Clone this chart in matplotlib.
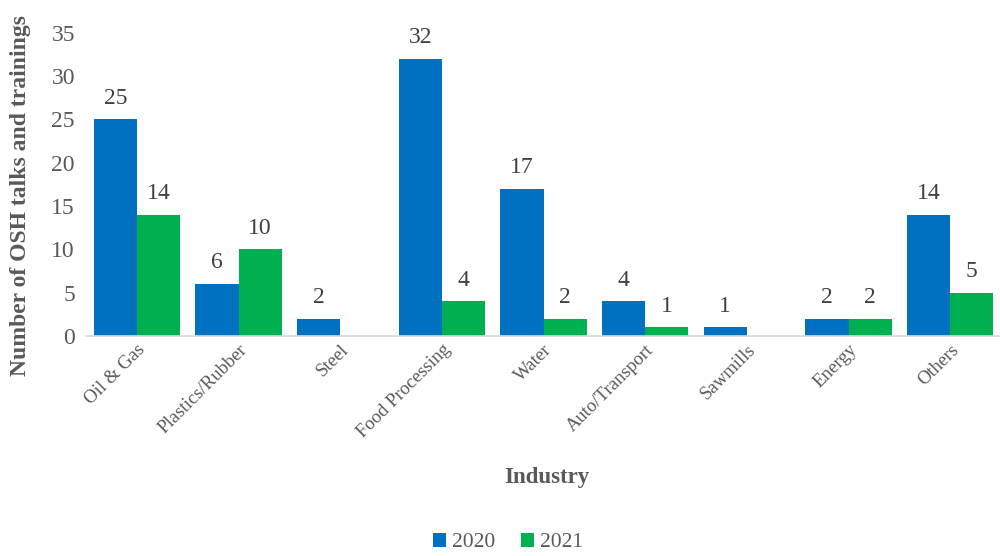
import matplotlib.pyplot as plt
import numpy as np

industrias = ['Oil & Gas', 'Plastics/Rubber', 'Steel', 'Food Processing', 'Water',
              'Auto/Transport', 'Sawmills', 'Energy', 'Others']
anos = ['2020', '2021']
v2020 = [25, 6, 2, 32, 17, 4, 1, 2, 14]
v2021 = [14, 10, 0, 4, 2, 1, 0, 2, 5]
cores = ['#0070C0', '#00B050']
cinza = '#595959'

plt.rcParams['font.family'] = ['Liberation Serif', 'DejaVu Serif']

fig = plt.figure(figsize=(10, 5.56), dpi=100)
ax = fig.add_axes([0.086, 0.396, 0.915, 0.545])

x = np.arange(len(industrias))
w = 0.423
for i, (serie, cor, ano) in enumerate(zip([v2020, v2021], cores, anos)):
    pos = x + (i - 0.5) * w
    ax.bar(pos, serie, width=w, color=cor, label=ano)
    for p, v in zip(pos, serie):
        if v > 0:
            ax.text(p, v + 1.2, str(v), ha='center', va='bottom', fontsize=17, color='#404040')

ax.set_xlim(-0.5, len(industrias) - 0.5)
ax.set_ylim(0, 35)
ax.set_yticks(range(0, 36, 5))
ax.tick_params(axis='y', length=0, labelsize=17, labelcolor=cinza, pad=8)
ax.tick_params(axis='x', length=0, labelsize=13.5, labelcolor=cinza, pad=4)
ax.set_xticks(x)
ax.set_xticklabels(industrias, rotation=45, ha='right', rotation_mode='anchor')
for s in ['top', 'right', 'left']:
    ax.spines[s].set_visible(False)
ax.spines['bottom'].set_color('#D9D9D9')
ax.spines['bottom'].set_linewidth(1.2)

ax.set_ylabel('Number of OSH talks and trainings', fontsize=17, fontweight='bold', color=cinza)
ax.yaxis.set_label_coords(-0.06, 0.462)
fig.text(0.547, 0.142, 'Industry', ha='center', va='center', fontsize=16.5, fontweight='bold', color=cinza)

fig.legend(loc='center', bbox_to_anchor=(0.508, 0.024), ncol=2, frameon=False, fontsize=15.5,
           handlelength=0.6, handleheight=0.6, handletextpad=0.3, columnspacing=1.2,
           labelcolor=cinza)

fig.savefig('out.png', dpi=100)
